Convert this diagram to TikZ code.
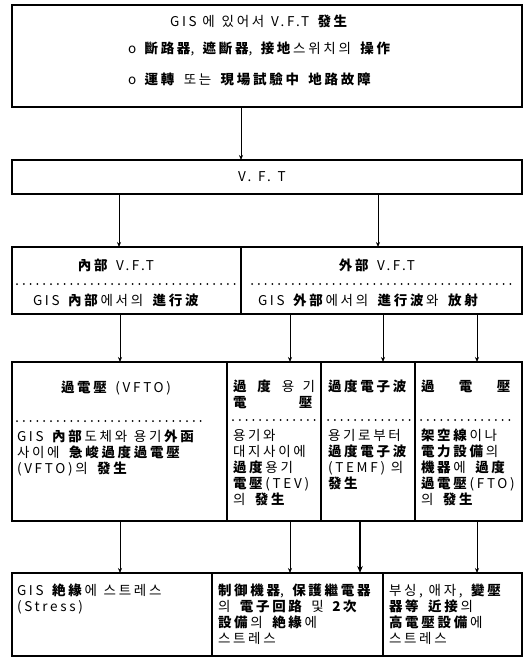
\documentclass[tikz,border=0pt]{standalone}
\usepackage{fontspec}
\setmainfont{Noto Sans CJK KR}[LetterSpace=20]
\usetikzlibrary{arrows.meta}
\newcommand\hj[1]{\textbf{#1}}
\newcommand\fl{\rule{0pt}{12pt}}
\newcommand\gp{\hspace{0.5em}}
\begin{document}
\begin{tikzpicture}[x=1pt,y=-1pt,
  box/.style={draw, line width=1.4pt, inner sep=0pt, outer sep=0pt},
  txt/.style={inner sep=0pt, outer sep=0pt, align=left, anchor=north west, font=\fontsize{13.5}{16}\selectfont},
  ctxt/.style={inner sep=0pt, outer sep=0pt, anchor=center, font=\fontsize{13.5}{16}\selectfont},
  dotline/.style={line width=2pt, line cap=round, dash pattern=on 0pt off 6.8pt},
  arr/.style={line width=0.7pt, -{Stealth[length=5pt,width=4pt]}},
  bigarr/.style={line width=1.3pt, -{Stealth[length=7pt,width=5.5pt]}}]
\useasboundingbox (0,0) rectangle (529,658);
% boxes
\node[box, minimum width=510pt, minimum height=102pt] (top) at (267,56) {};
\node[box, minimum width=510pt, minimum height=34pt] (vft) at (267,177) {};
\node[box, minimum width=229pt, minimum height=67pt] (inb) at (126.5,280.5) {};
\node[box, minimum width=281pt, minimum height=67pt] (outb) at (381.5,280.5) {};
\node[box, minimum width=215pt, minimum height=159pt] (r3a) at (119.5,441.5) {};
\node[box, minimum width=94pt, minimum height=159pt] (r3b) at (274,441.5) {};
\node[box, minimum width=94pt, minimum height=159pt] (r3c) at (368,441.5) {};
\node[box, minimum width=107pt, minimum height=159pt] (r3d) at (468.5,441.5) {};
\node[box, minimum width=200pt, minimum height=83pt] (b1) at (112,614.5) {};
\node[box, minimum width=171pt, minimum height=83pt] (b2) at (297.5,614.5) {};
\node[box, minimum width=139pt, minimum height=83pt] (b3) at (452.5,614.5) {};
% arrow columns
\coordinate (c0) at (241,0);
\coordinate (c1) at (119,0);
\coordinate (c2) at (378,0);
\coordinate (u1) at (120,0);
\coordinate (u2) at (290,0);
\coordinate (u3) at (383,0);
\coordinate (u4) at (477,0);
\coordinate (l3) at (360,0);
% arrows
\draw[arr] (top.south -| c0) -- (vft.north -| c0);
\draw[arr] (vft.south -| c1) -- (inb.north -| c1);
\draw[arr] (vft.south -| c2) -- (outb.north -| c2);
\draw[arr] (inb.south -| u1) -- (r3a.north -| u1);
\draw[arr] (outb.south -| u2) -- (r3b.north -| u2);
\draw[arr] (outb.south -| u3) -- (r3c.north -| u3);
\draw[arr] (outb.south -| u4) -- (r3d.north -| u4);
\draw[arr] (r3a.south -| u1) -- (b1.north -| u1);
\draw[arr] (r3b.south -| u2) -- (b2.north -| u2);
\draw[bigarr] (r3c.south -| l3) -- (b2.north -| l3);
\draw[arr] (r3d.south -| u4) -- (b3.north -| u4);
% top box text
\node[ctxt] (t1) at (260,21) {GIS 에\gp 있어서\gp V.F.T \hj{發生}};
\node[txt] (t2) at (128,42) {\fl o \hj{斷路器}, \hj{遮斷器}, \hj{接地}스위치의\gp \hj{操作}};
\node[txt] (t3) at (128,73) {\fl o \hj{運轉}\gp 또는\gp \hj{現場試驗中}\gp \hj{地路故障}};
% vft
\node[ctxt] (vt) at (262,177) {V.\gp F.\gp T};
% row 2
\node[ctxt] (it) at (116,265) {\hj{內部} V.F.T};
\node[ctxt] (ot) at (377,265) {\hj{外部} V.F.T};
\coordinate (d1a) at (17,284); \coordinate (d1b) at (235,284);
\coordinate (d2a) at (252,284); \coordinate (d2b) at (512,284);
\draw[dotline] (d1a) -- (d1b);
\draw[dotline] (d2a) -- (d2b);
\node[txt] (itx) at (33,293) {\fl GIS \hj{內部}에서의\gp \hj{進行波}};
\node[txt] (otx) at (258,293) {\fl GIS \hj{外部}에서의\gp \hj{進行波}와\gp \hj{放射}};
% row 3
\node[ctxt] (at) at (116,388) {\hj{過電壓} (VFTO)};
\coordinate (d3a) at (17,421); \coordinate (d3b) at (205,421);
\draw[dotline] (d3a) -- (d3b);
\node[txt] (ax) at (17,429) {\fl GIS \hj{內部}도체와\gp 용기\hj{外函}\\사이에\gp \hj{急峻過度過電壓}\\(VFTO)의\gp \hj{發生}};
\node[txt] (bt) at (233,379) {\fl\makebox[82pt][s]{\hj{過}\hfill\hj{度}\hfill 용\hfill 기}\\\makebox[82pt][s]{\hj{電}\hfill\hj{壓}}};
\coordinate (d4a) at (233,420); \coordinate (d4b) at (317,420);
\draw[dotline] (d4a) -- (d4b);
\node[txt] (bx) at (233,428) {\fl 용기와\\대지사이에\\\hj{過度}용기\\\hj{電壓}(TEV)\\의\gp \hj{發生}};
\node[txt] (ct) at (328,379) {\fl\hj{過度電子波}};
\coordinate (d5a) at (328,420); \coordinate (d5b) at (410,420);
\draw[dotline] (d5a) -- (d5b);
\node[txt] (cx) at (328,428) {\fl 용기로부터\\\hj{過度電子波}\\ (TEMF) 의\\\hj{發生}};
\node[txt] (dt) at (421,379) {\fl\makebox[92pt][s]{\hj{過}\hfill\hj{電}\hfill\hj{壓}}};
\coordinate (d6a) at (421,420); \coordinate (d6b) at (516,420);
\draw[dotline] (d6a) -- (d6b);
\node[txt] (dx) at (421,428) {\fl\hj{架空線}이나\\\hj{電力設備}의\\\hj{機器}에\gp \hj{過度}\\\hj{過電壓}(FTO)\\의\gp \hj{發生}};
% bottom
\node[txt] (e1) at (17,583) {\fl GIS \hj{絶緣}에\gp 스트레스\\(Stress)};
\node[txt] (e2) at (218,583) {\fl\hj{制御機器}, \hj{保護繼電器}\\의\gp \hj{電子回路}\gp 및 \hj{2次}\\\hj{設備}의\gp \hj{絶緣}에\\스트레스};
\node[txt] (e3) at (389,583) {\fl 부싱, 애자, \hj{變壓}\\\hj{器等}\gp \hj{近接}의\\\hj{高電壓設備}에\\스트레스};
\end{tikzpicture}
\end{document}
